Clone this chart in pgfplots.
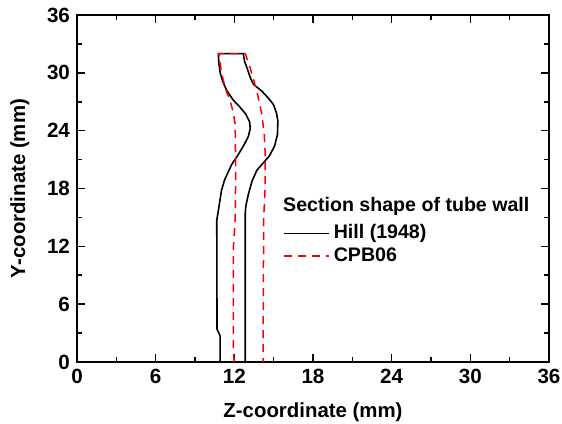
\documentclass[border=0pt]{standalone}
\usepackage{fontspec}
\setmainfont{Liberation Sans}
\usepackage{pgfplots}
\pgfplotsset{compat=1.18}

\begin{document}
\begin{tikzpicture}
\useasboundingbox (-38.5pt,-30.5pt) rectangle (242.5pt,181pt);
\begin{axis}[
  scale only axis, width=236pt, height=173.5pt,
  xmin=0, xmax=36, ymin=0, ymax=36,
  xtick={0,6,...,36}, ytick={0,6,...,36},
  minor tick num=1,
  tick align=inside,
  major tick length=4pt, minor tick length=2.5pt,
  axis line style={line width=1pt},
  every tick/.style={line width=0.8pt, black},
  /pgf/number format/assume math mode=true,
  tick label style={font=\fontsize{10.3}{11}\selectfont\bfseries},
  label style={font=\fontsize{10.2}{12}\selectfont\bfseries},
  xlabel={Z-coordinate (mm)}, ylabel={Y-coordinate (mm)},
  xlabel style={yshift=-2.5pt}, ylabel style={yshift=2pt},
  clip=false,
  legend style={draw=none, fill=none, at={(axis cs:15.7,14.7)}, anchor=north west,
    font=\fontsize{9.8}{11}\selectfont\bfseries, inner sep=0pt, row sep=-1.1pt},
  legend cell align={left},
  legend image code/.code={\draw[#1] (0pt,0pt) -- (22.5pt,0pt);},
]
% Hill (1948) (black solid)
\addplot[black, line width=0.8pt] coordinates {
 (10.92,0) (10.92,2.7) (10.68,3.4) (10.66,14.7) (10.78,15.7) (11.02,17.8) (11.26,18.9)
 (11.80,20.5) (12.29,21.5) (12.73,22.5) (13.07,23.4) (13.21,24.2) (13.17,24.9) (12.88,25.7)
 (12.39,26.5) (11.90,27.2) (11.41,28.2) (11.12,29.1) (10.92,30.0) (10.82,31.0) (10.78,32.0)
 (12.68,32.0) (12.78,31.2) (12.97,30.5) (13.22,29.5) (13.46,28.8) (14.10,28.1) (14.58,27.4)
 (14.99,26.7) (15.22,25.8) (15.32,25.0) (15.29,23.6) (15.07,22.4) (14.68,21.4) (14.24,20.7)
 (13.72,19.9) (13.36,18.8) (13.07,17.4) (12.88,16.2) (12.83,15.4) (12.83,0)
};
% CPB06 (red dashed)
\addplot[red, line width=0.75pt, dash pattern=on 4pt off 3pt] coordinates {
 (11.99,0) (11.93,1.0) (11.93,12.0) (12.06,14.6) (12.09,17.8) (12.09,21.9) (12.06,24.7)
 (11.90,26.0) (11.70,27.0) (11.31,28.4) (11.02,30.0) (10.82,32.0) (12.83,32.0)
 (13.21,30.5) (13.72,28.1) (14.10,25.7) (14.29,23.5) (14.34,22.0) (14.34,17.8) (14.24,15.0) (14.19,0)
};
\legend{Hill (1948), CPB06}
\node[anchor=west, inner sep=0pt, font=\fontsize{9.8}{11}\selectfont\bfseries] at (axis cs:15.7,16.1) {Section shape of tube wall};
\end{axis}
\end{tikzpicture}
\end{document}
